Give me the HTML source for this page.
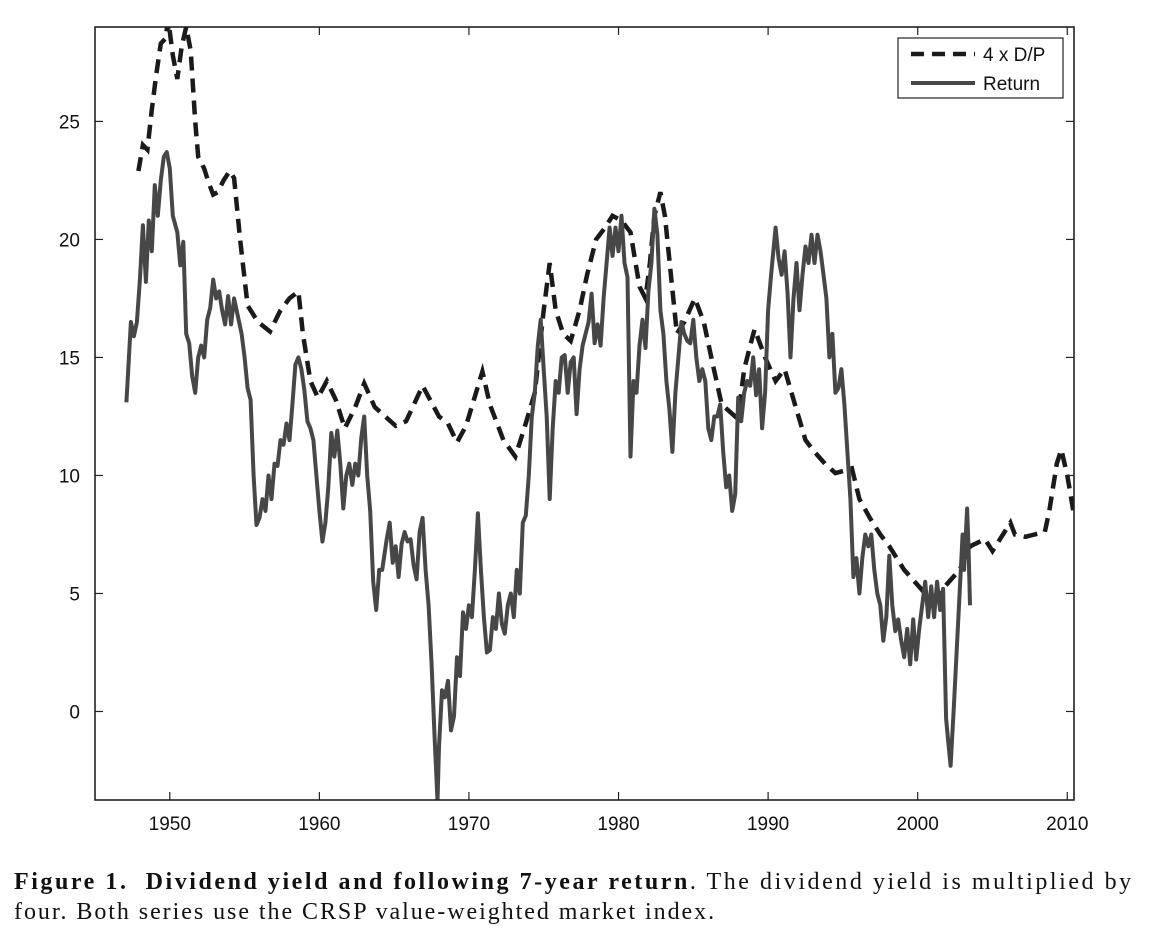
<!DOCTYPE html>
<html><head><meta charset="utf-8"><style>
body{margin:0;background:#fff;width:1162px;height:934px;overflow:hidden}
svg text{font-family:"Liberation Sans",sans-serif}
.cap{position:absolute;left:14px;top:867px;width:1150px;font-family:"Liberation Serif",serif;font-size:24px;line-height:30px;color:#111;white-space:nowrap}
.l1{letter-spacing:2.55px}.l2{letter-spacing:1.95px}
</style></head><body>
<svg width="1162" height="860" style="position:absolute;left:0;top:0" id="svg"></svg>
<div class="cap"><span class="l1"><b>Figure 1.&nbsp; Dividend yield and following 7-year return</b>. The dividend yield is multiplied by</span><br><span class="l2">four. Both series use the CRSP value-weighted market index.</span></div>
<script>
const xTicks=[1950,1960,1970,1980,1990,2000,2010];
const yTicks=[0,5,10,15,20,25];
const dpSeries=[[1947.9,22.9],[1948.2,24],[1948.5,23.8],[1948.8,25.5],[1949.1,27],[1949.4,28.3],[1949.7,28.5],[1949.9,29.3],[1950.2,27.8],[1950.5,26.8],[1950.8,28.2],[1951.1,29],[1951.4,28],[1951.7,25],[1951.9,23.5],[1952.3,23],[1952.6,22.4],[1952.9,21.9],[1953.2,22],[1953.6,22.5],[1954.0,22.9],[1954.3,22.6],[1954.7,20],[1955.2,17.2],[1955.9,16.5],[1956.7,16.1],[1957.4,17],[1958.0,17.5],[1958.6,17.8],[1958.9,16],[1959.4,14],[1959.9,13.3],[1960.5,14],[1961.1,13.2],[1961.7,12],[1962.4,12.9],[1963.0,13.9],[1963.7,12.9],[1964.4,12.5],[1965.1,12.1],[1965.8,12.3],[1966.9,13.8],[1968.0,12.5],[1968.6,12.2],[1969.2,11.4],[1969.8,12.1],[1970.9,14.4],[1971.4,13],[1972.3,11.5],[1973.1,10.8],[1973.7,12],[1974.4,13.5],[1975.0,17],[1975.4,19],[1975.8,17],[1976.3,16],[1976.8,15.7],[1977.4,17],[1977.9,18.5],[1978.5,20],[1979.1,20.5],[1979.6,21],[1980.2,20.8],[1980.8,20.3],[1981.4,18],[1981.8,17.5],[1982.1,19],[1982.4,21],[1982.8,22],[1983.1,21],[1983.5,18.5],[1983.9,16],[1984.4,16.5],[1985.1,17.5],[1985.7,16.5],[1986.2,15],[1986.9,13],[1987.8,12.5],[1988.1,13],[1988.4,14.5],[1988.8,15.5],[1989.1,16.2],[1989.8,15],[1990.5,14],[1991.1,14.5],[1991.8,13],[1992.5,11.5],[1993.1,11],[1993.8,10.5],[1994.5,10.1],[1995.1,10.2],[1995.6,10.3],[1996.1,9],[1996.8,8.2],[1997.5,7.5],[1998.1,7],[1999.1,6],[1999.8,5.5],[2000.5,5],[2001.1,4.8],[2002.1,5.5],[2002.8,6],[2003.5,7],[2004.5,7.3],[2005.0,6.8],[2005.5,7.3],[2006.2,8],[2006.5,7.5],[2007.2,7.4],[2007.8,7.5],[2008.5,7.6],[2008.8,8.5],[2009.3,10.5],[2009.6,11.1],[2010.0,10],[2010.4,8.5]];
const returnYears=[1947.1,1947.4,1947.6,1947.8,1948.0,1948.2,1948.4,1948.6,1948.8,1949.0,1949.2,1949.4,1949.6,1949.8,1950.0,1950.2,1950.5,1950.7,1950.9,1951.1,1951.3,1951.5,1951.7,1951.9,1952.1,1952.3,1952.5,1952.7,1952.9,1953.1,1953.3,1953.5,1953.7,1953.9,1954.1,1954.3,1954.5,1954.8,1955.0,1955.2,1955.4,1955.6,1955.8,1956.0,1956.2,1956.4,1956.6,1956.8,1957.0,1957.2,1957.4,1957.6,1957.8,1958.0,1958.2,1958.4,1958.6,1958.8,1959.0,1959.2,1959.4,1959.6,1959.8,1960.0,1960.2,1960.4,1960.6,1960.8,1961.0,1961.2,1961.4,1961.6,1961.8,1962.0,1962.2,1962.4,1962.6,1962.8,1963.0,1963.2,1963.4,1963.6,1963.8,1964.0,1964.2,1964.5,1964.7,1964.9,1965.1,1965.3,1965.5,1965.7,1965.9,1966.1,1966.3,1966.5,1966.7,1966.9,1967.1,1967.3,1967.5,1967.7,1967.9,1968.0,1968.2,1968.4,1968.6,1968.8,1969.0,1969.2,1969.4,1969.6,1969.8,1970.0,1970.2,1970.4,1970.6,1970.8,1971.0,1971.2,1971.4,1971.6,1971.8,1972.0,1972.2,1972.4,1972.6,1972.8,1973.0,1973.2,1973.4,1973.6,1973.8,1974.0,1974.2,1974.4,1974.6,1974.8,1975.0,1975.2,1975.4,1975.6,1975.8,1976.0,1976.2,1976.4,1976.6,1976.8,1977.0,1977.2,1977.4,1977.6,1977.8,1978.0,1978.2,1978.4,1978.6,1978.8,1979.0,1979.2,1979.4,1979.6,1979.8,1980.0,1980.2,1980.4,1980.6,1980.8,1981.0,1981.2,1981.4,1981.6,1981.8,1982.0,1982.2,1982.4,1982.6,1982.8,1983.0,1983.2,1983.4,1983.6,1983.8,1984.0,1984.2,1984.4,1984.6,1984.8,1985.0,1985.2,1985.4,1985.6,1985.8,1986.0,1986.2,1986.4,1986.6,1986.8,1987.0,1987.2,1987.4,1987.6,1987.8,1988.0,1988.2,1988.4,1988.6,1988.8,1989.0,1989.2,1989.4,1989.6,1989.8,1990.0,1990.2,1990.5,1990.7,1990.9,1991.1,1991.3,1991.5,1991.7,1991.9,1992.1,1992.3,1992.5,1992.7,1992.9,1993.1,1993.3,1993.5,1993.7,1993.9,1994.1,1994.3,1994.5,1994.7,1994.9,1995.1,1995.3,1995.5,1995.7,1995.9,1996.1,1996.3,1996.5,1996.7,1996.9,1997.1,1997.3,1997.5,1997.7,1997.9,1998.1,1998.3,1998.5,1998.7,1998.9,1999.1,1999.3,1999.5,1999.7,1999.9,2000.1,2000.3,2000.5,2000.7,2000.9,2001.1,2001.3,2001.5,2001.7,2001.9,2002.0,2002.2,2002.4,2002.6,2002.8,2003.0,2003.1,2003.3,2003.4,2003.5];
const returnValues=[13.1,16.5,15.9,16.5,18.3,20.6,18.2,20.8,19.5,22.3,21,22.5,23.5,23.7,23,21,20.3,18.9,19.9,16.0,15.6,14.2,13.5,15,15.5,15,16.6,17.1,18.3,17.5,17.8,17,16.4,17.6,16.4,17.5,16.9,16,15,13.7,13.2,10,7.9,8.2,9,8.5,10,9,10.5,10.4,11.5,11.3,12.2,11.5,13,14.7,15,14.5,13.6,12.3,12,11.5,10,8.5,7.2,8,9.5,11.8,10.8,11.9,10.5,8.6,10,10.5,9.6,10.5,10,11.6,12.5,10,8.5,5.5,4.3,6,6,7.3,8,6.3,7,5.7,7.1,7.6,7.2,7.3,6.2,5.6,7.6,8.2,6,4.5,2,-1,-3.8,-1.5,0.9,0.6,1.3,-0.8,-0.2,2.3,1.5,4.2,3.5,4.5,4,6,8.4,6,4,2.5,2.6,4,3.5,5,3.7,3.3,4.5,5,4,6,5,8,8.3,10,12.5,13.5,15.5,16.6,14.5,12.5,9,12,14,13.5,15,15.1,13.5,14.8,15,12.6,14.5,15.5,16,16.5,17.7,15.6,16.4,15.5,17.5,19,20.5,19.3,20.5,19.5,21,19,18.4,10.8,14,13.5,15.5,16.6,15.4,17.8,19,21.3,20.2,17,16,14,12.8,11,13.5,15,16.5,16,15.7,15.6,16.6,15,14,14.5,14,12,11.5,12.5,12.5,13,11,9.5,10,8.5,9.2,13.3,12.3,13.5,14,13.8,15,13.4,14.5,12,13.5,17,18.5,20.5,19.2,18.5,19.5,17.7,15,17.5,19,17,18.5,19.7,19,20.2,19,20.2,19.5,18.5,17.5,15,16,13.5,13.7,14.5,13,11,9,5.7,6.5,5,6.5,7.5,7,7.5,6,5,4.5,3,4,6.6,4.5,3.4,3.9,3,2.3,3.5,2,3.9,2.2,3.5,4.5,5.5,4,5.3,4,5.5,4.3,5.2,-0.3,-1,-2.3,0,2.5,5,7.5,6,8.6,7,4.5];
const NS='http://www.w3.org/2000/svg';
const svg=document.getElementById('svg');
const L=95,R=1074,T=27,B=800,X0=1945,X1=2010.45,Y0=-3.75,Y1=29;
const sx=v=>L+(v-X0)/(X1-X0)*(R-L);
const sy=v=>B-(v-Y0)/(Y1-Y0)*(B-T);
function mk(tag,attrs,parent){const e=document.createElementNS(NS,tag);for(const k in attrs)e.setAttribute(k,attrs[k]);(parent||svg).appendChild(e);return e;}
const defs=mk('defs',{});const cp=mk('clipPath',{id:'clip'},defs);mk('rect',{x:L,y:T,width:R-L,height:B-T},cp);
const plot=mk('g',{'clip-path':'url(#clip)'});


const dpPath=mk('path',{d:'M'+dpSeries.map(p=>sx(p[0]).toFixed(1)+','+sy(p[1]).toFixed(1)).join('L'),fill:'none',stroke:'#1a1a1a','stroke-width':4.5,'stroke-dasharray':'14 8'},plot);


const retPath=mk('path',{d:'M'+returnYears.map((y,i)=>sx(y).toFixed(1)+','+sy(returnValues[i]).toFixed(1)).join('L'),fill:'none',stroke:'#474747','stroke-width':4,'stroke-linejoin':'round'},plot);


const box=mk('rect',{x:L,y:T,width:R-L,height:B-T,fill:'none',stroke:'#222','stroke-width':1.6});


xTicks.forEach(t=>{const x=sx(t);
 mk('line',{x1:x,x2:x,y1:B,y2:B-8,stroke:'#222','stroke-width':1.2});
 mk('line',{x1:x,x2:x,y1:T,y2:T+8,stroke:'#222','stroke-width':1.2});
 const tx=mk('text',{x:x,y:830,'text-anchor':'middle','font-size':19,fill:'#111'});tx.textContent=t;
 
 
});
yTicks.forEach(t=>{const y=sy(t);
 mk('line',{x1:L,x2:L+8,y1:y,y2:y,stroke:'#222','stroke-width':1.2});
 mk('line',{x1:R,x2:R-8,y1:y,y2:y,stroke:'#222','stroke-width':1.2});
 const tx=mk('text',{x:80,y:y+7,'text-anchor':'end','font-size':19,fill:'#111'});tx.textContent=t;
 
 
});
const lg=mk('g',{});


mk('rect',{x:898,y:38,width:165,height:60,fill:'#fff',stroke:'#222','stroke-width':1.2},lg);
mk('line',{x1:911,x2:975,y1:54,y2:54,stroke:'#1a1a1a','stroke-width':4.5,'stroke-dasharray':'13 8'},lg);
mk('line',{x1:911,x2:975,y1:83,y2:83,stroke:'#474747','stroke-width':4},lg);
const t1=mk('text',{x:983,y:61,'font-size':19,fill:'#111'},lg);t1.textContent='4 x D/P';


const t2=mk('text',{x:983,y:90,'font-size':19,fill:'#111'},lg);t2.textContent='Return';


</script>
</body></html>
